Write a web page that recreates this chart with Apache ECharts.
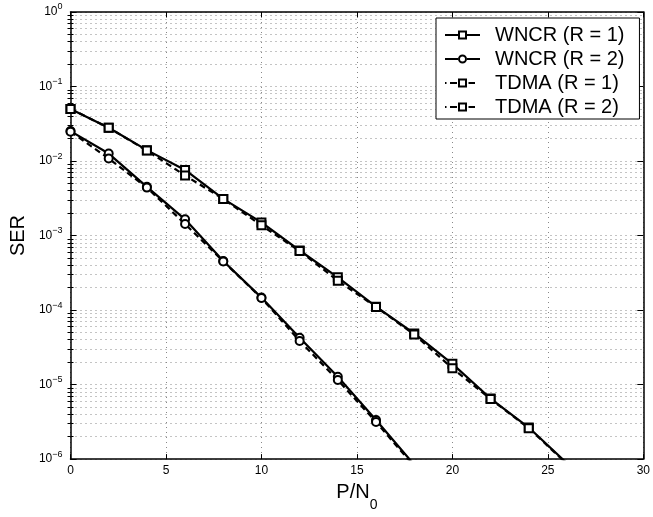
<!DOCTYPE html>
<html>
<head>
<meta charset="utf-8">
<script src="https://cdn.jsdelivr.net/npm/echarts@6/dist/echarts.min.js"></script>
<style>html,body{margin:0;padding:0;background:#fff}#c{width:653px;height:517px}</style>
</head>
<body>
<div id="c"></div>
<script>
const xR1 = [0, 2, 4, 6, 8, 10, 12, 14, 16, 18, 20, 22, 24, 26];
const wncrR1 = [0.050, 0.028, 0.014, 0.0076, 0.0031, 0.0015, 6.3e-4, 2.75e-4, 1.11e-4, 4.85e-5, 1.9e-5, 6.5e-6, 2.65e-6, 8.8e-7];
const tdmaR1 = [0.050, 0.028, 0.0138, 0.0064, 0.0031, 0.00137, 6.2e-4, 2.48e-4, 1.1e-4, 4.7e-5, 1.66e-5, 6.4e-6, 2.6e-6, 8.6e-7];
const xR2 = [0, 2, 4, 6, 8, 10, 12, 14, 16, 18];
const wncrR2 = [0.0252, 0.0126, 0.0045, 0.00165, 4.55e-4, 1.47e-4, 4.25e-5, 1.27e-5, 3.35e-6, 8.4e-7];
const tdmaR2 = [0.0248, 0.0108, 0.0044, 0.00143, 4.5e-4, 1.45e-4, 3.85e-5, 1.15e-5, 3.15e-6, 8.0e-7];
const seriesNames = ['WNCR (R = 1)', 'WNCR (R = 2)', 'TDMA (R = 1)', 'TDMA (R = 2)'];
const xTicks = [0, 5, 10, 15, 20, 25, 30];
const decadeExps = [-6, -5, -4, -3, -2, -1, 0];

const decades = decadeExps.map(e => Math.pow(10, e));
const minors = [];
decadeExps.slice(0, -1).forEach(e => { for (let k = 2; k <= 9; k++) minors.push(k * Math.pow(10, e)); });

const FONT = "'Liberation Sans', Arial, Helvetica, sans-serif";
const dotted = { color: '#888', width: 1, type: [1, 4] };

function pairs(xs, ys) { return xs.map((x, i) => [x, ys[i]]); }

const iconSolidSquare = 'path://M0 3.5L13 3.5L13 5.5L0 5.5Z M13 0L22 0L22 9L13 9Z M15 2L15 7L20 7L20 2Z M22 3.5L35 3.5L35 5.5L22 5.5Z';
const iconSolidCircle = 'path://M0 3.5L13 3.5L13 5.5L0 5.5Z M22 3.5L35 3.5L35 5.5L22 5.5Z M13 4.5A4.5 4.5 0 1 1 22 4.5A4.5 4.5 0 1 1 13 4.5Z M15 4.5A2.5 2.5 0 1 0 20 4.5A2.5 2.5 0 1 0 15 4.5Z';
const iconDashSquare = 'path://M0 3.5L1.5 3.5L1.5 5.5L0 5.5Z M5 3.5L12 3.5L12 5.5L5 5.5Z M13 0L22 0L22 9L13 9Z M15 2L15 7L20 7L20 2Z M23.5 3.5L30 3.5L30 5.5L23.5 5.5Z M35 4.5L35 4.5Z';

function mkSeries(name, xs, ys, symbol, dashed) {
  return {
    name: name, type: 'line', data: pairs(xs, ys),
    symbol: symbol, symbolSize: 8, showAllSymbol: true, clip: true,
    lineStyle: { color: '#000', width: 2.2, type: dashed ? [6, 4] : 'solid' },
    itemStyle: { color: '#000', borderColor: '#000', borderWidth: 2.2 },
    emphasis: { disabled: true }
  };
}

const chart = echarts.init(document.getElementById('c'), null, { renderer: 'canvas' });
chart.setOption({
  animation: false,
  backgroundColor: '#fff',
  textStyle: { fontFamily: FONT },
  grid: { left: 65, right: 9, top: 12, bottom: 48, containLabel: false },
  legend: {
    orient: 'vertical', left: 436, top: 18,
    padding: [5, 15, 0, 9], itemGap: 0, itemWidth: 35, itemHeight: 9,
    backgroundColor: '#fff', borderColor: '#000', borderWidth: 1,
    textStyle: { fontFamily: FONT, fontSize: 20, color: '#000', lineHeight: 24, padding: [0, 0, 0, 10] },
    itemStyle: { color: '#000', borderWidth: 0 },
    selectedMode: false,
    data: [
      { name: seriesNames[0], icon: iconSolidSquare },
      { name: seriesNames[1], icon: iconSolidCircle },
      { name: seriesNames[2], icon: iconDashSquare },
      { name: seriesNames[3], icon: iconDashSquare }
    ]
  },
  xAxis: [{
    type: 'value', min: 0, max: 30, interval: 5, position: 'bottom',
    name: '{a|P/N}{s|0}', nameLocation: 'middle', nameGap: 21,
    nameTextStyle: { rich: {
      a: { fontFamily: FONT, fontSize: 20, lineHeight: 20, color: '#000', padding: [0, 0, 10, 0], verticalAlign: 'bottom' },
      s: { fontFamily: FONT, fontSize: 14, lineHeight: 14, color: '#000', verticalAlign: 'bottom' }
    } },
    axisLine: { show: true, onZero: false, lineStyle: { color: '#000', width: 1.5 } },
    axisTick: { show: true, inside: true, length: 5, lineStyle: { color: '#000', width: 1 } },
    axisLabel: { fontFamily: FONT, fontSize: 12, color: '#000', margin: 6, formatter: v => String(v) },
    splitLine: { show: true, lineStyle: dotted }
  }, {
    type: 'value', min: 0, max: 30, interval: 5, position: 'top',
    axisLine: { show: true, onZero: false, lineStyle: { color: '#000', width: 1.5 } },
    axisTick: { show: true, inside: true, length: 5, lineStyle: { color: '#000', width: 1 } },
    axisLabel: { show: false }, splitLine: { show: false }
  }],
  yAxis: [{
    type: 'log', logBase: 10, min: 1e-6, max: 1, position: 'left',
    name: 'SER', nameLocation: 'middle', nameGap: 34, nameRotate: 90,
    nameTextStyle: { fontFamily: FONT, fontSize: 20, color: '#000' },
    axisLine: { show: true, onZero: false, lineStyle: { color: '#000', width: 1.5 } },
    axisTick: { show: true, inside: true, length: 6, customValues: decades, lineStyle: { color: '#000', width: 1 } },
    axisLabel: {
      show: true, margin: 8, customValues: decades, showMinLabel: true, showMaxLabel: true,
      formatter: v => '{b|10}{e|' + String(Math.round(Math.log10(v))).replace('-', '\u2212') + '}',
      rich: {
        b: { fontFamily: FONT, fontSize: 12, lineHeight: 12, color: '#000', verticalAlign: 'bottom' },
        e: { fontFamily: FONT, fontSize: 9, lineHeight: 9, color: '#000', padding: [0, 0, 6.5, 0], verticalAlign: 'bottom' }
      }
    },
    splitLine: { show: true, lineStyle: dotted }
  }, {
    type: 'log', logBase: 10, min: 1e-6, max: 1, position: 'left',
    axisLine: { show: false },
    axisTick: { show: true, inside: true, length: 3, customValues: minors, lineStyle: { color: '#000', width: 1 } },
    axisLabel: { show: false },
    splitLine: { show: true, lineStyle: dotted }
  }, {
    type: 'log', logBase: 10, min: 1e-6, max: 1, position: 'right',
    axisLine: { show: true, onZero: false, lineStyle: { color: '#000', width: 1.5 } },
    axisTick: { show: true, inside: true, length: 6, customValues: decades, lineStyle: { color: '#000', width: 1 } },
    axisLabel: { show: false }, splitLine: { show: false }
  }, {
    type: 'log', logBase: 10, min: 1e-6, max: 1, position: 'right',
    axisLine: { show: false },
    axisTick: { show: true, inside: true, length: 3, customValues: minors, lineStyle: { color: '#000', width: 1 } },
    axisLabel: { show: false }, splitLine: { show: false }
  }],
  series: [
    mkSeries(seriesNames[0], xR1, wncrR1, 'emptyRect', false),
    mkSeries(seriesNames[1], xR2, wncrR2, 'emptyCircle', false),
    mkSeries(seriesNames[2], xR1, tdmaR1, 'emptyRect', true),
    mkSeries(seriesNames[3], xR2, tdmaR2, 'emptyCircle', true)
  ]
});
</script>
</body>
</html>
